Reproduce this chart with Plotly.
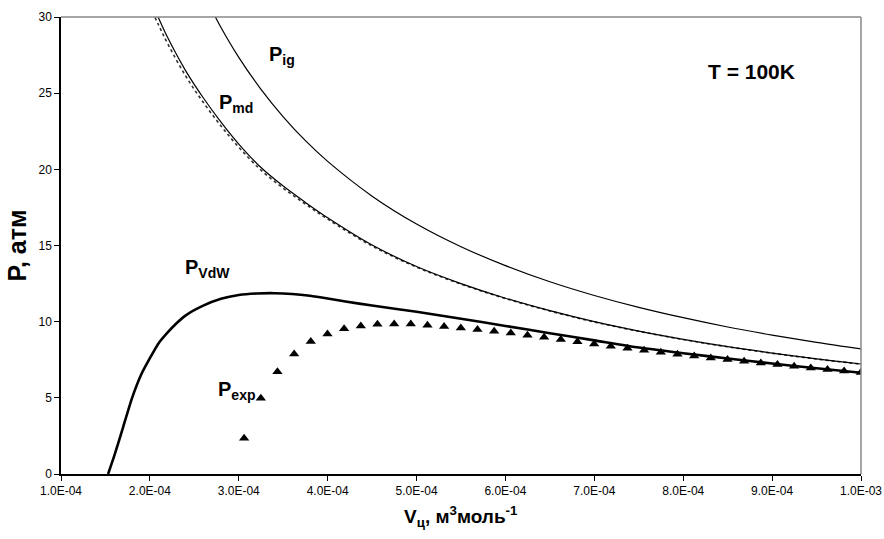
import plotly.graph_objects as go

# ---- data ----
V_ig = [2.6e-4, 2.8e-4, 3.0e-4, 3.25e-4, 3.5e-4, 3.75e-4, 4.0e-4, 4.5e-4, 5.0e-4, 5.5e-4,
        6.0e-4, 6.5e-4, 7.0e-4, 7.5e-4, 8.0e-4, 8.5e-4, 9.0e-4, 9.5e-4, 1.0e-3]
P_ig = [31.56, 29.31, 27.35, 25.25, 23.45, 21.88, 20.52, 18.24, 16.41, 14.92,
        13.68, 12.62, 11.72, 10.94, 10.26, 9.65, 9.12, 8.64, 8.21]

V_md = [2.0e-4, 2.1e-4, 2.2e-4, 2.4e-4, 2.6e-4, 2.8e-4, 3.0e-4, 3.25e-4, 3.5e-4, 3.75e-4,
        4.0e-4, 4.5e-4, 5.0e-4, 5.5e-4, 6.0e-4, 6.5e-4, 7.0e-4, 7.5e-4, 8.0e-4, 8.5e-4,
        9.0e-4, 9.5e-4, 1.0e-3]
P_md = [31.2, 29.9, 28.65, 26.5, 24.7, 23.1, 21.66, 20.12, 18.9, 17.83,
        16.82, 15.03, 13.62, 12.50, 11.54, 10.72, 10.0, 9.38, 8.84, 8.36,
        7.94, 7.56, 7.22]
P_md_alt = [30.7, 29.45, 28.25, 26.15, 24.4, 22.85, 21.45, 19.95, 18.76, 17.72,
            16.73, 14.97, 13.58, 12.47, 11.52, 10.70, 9.98, 9.37, 8.83, 8.35,
            7.93, 7.55, 7.21]

V_vdw = [1.53e-4, 1.6e-4, 1.7e-4, 1.8e-4, 1.9e-4, 2.0e-4, 2.1e-4, 2.2e-4, 2.3e-4, 2.4e-4,
         2.6e-4, 2.8e-4, 3.0e-4, 3.2e-4, 3.4e-4, 3.6e-4, 3.8e-4, 4.0e-4, 4.2e-4, 4.5e-4,
         5.0e-4, 5.5e-4, 6.0e-4, 6.5e-4, 7.0e-4, 7.5e-4, 8.0e-4, 8.5e-4, 9.0e-4, 9.5e-4, 1.0e-3]
P_vdw = [0.0, 1.2, 3.1, 5.0, 6.5, 7.6, 8.6, 9.3, 9.9, 10.4,
         11.05, 11.5, 11.75, 11.85, 11.87, 11.82, 11.7, 11.52, 11.32, 11.06,
         10.65, 10.19, 9.72, 9.24, 8.77, 8.3, 7.93, 7.58, 7.25, 6.94, 6.65]

V_exp = [3.060e-4, 3.248e-4, 3.435e-4, 3.623e-4, 3.810e-4, 3.998e-4, 4.185e-4, 4.373e-4,
         4.560e-4, 4.748e-4, 4.935e-4, 5.123e-4, 5.310e-4, 5.498e-4, 5.685e-4, 5.873e-4,
         6.060e-4, 6.248e-4, 6.435e-4, 6.623e-4, 6.810e-4, 6.998e-4, 7.185e-4, 7.373e-4,
         7.560e-4, 7.748e-4, 7.935e-4, 8.123e-4, 8.310e-4, 8.498e-4, 8.685e-4, 8.873e-4,
         9.060e-4, 9.248e-4, 9.435e-4, 9.623e-4, 9.810e-4, 9.998e-4]
P_exp = [2.34, 4.97, 6.72, 7.88, 8.69, 9.19, 9.54, 9.72, 9.83, 9.85,
         9.84, 9.77, 9.68, 9.58, 9.48, 9.37, 9.25, 9.11, 8.97, 8.83,
         8.68, 8.53, 8.39, 8.25, 8.12, 7.99, 7.86, 7.74, 7.62, 7.51,
         7.40, 7.29, 7.18, 7.07, 6.96, 6.86, 6.76, 6.66]

x_tickvals = [1e-4, 2e-4, 3e-4, 4e-4, 5e-4, 6e-4, 7e-4, 8e-4, 9e-4, 1e-3]
x_ticktext = ["1.0E-04", "2.0E-04", "3.0E-04", "4.0E-04", "5.0E-04", "6.0E-04",
              "7.0E-04", "8.0E-04", "9.0E-04", "1.0E-03"]
y_tickvals = [0, 5, 10, 15, 20, 25, 30]

FONT = "Liberation Sans, Arial, sans-serif"

fig = go.Figure()
fig.add_trace(go.Scatter(x=V_ig, y=P_ig, mode="lines", line=dict(color="black", width=1.2, shape="spline"), name="P_ig"))
fig.add_trace(go.Scatter(x=V_md, y=P_md_alt, mode="lines", line=dict(color="#333", width=1.6, dash="dot", shape="spline"), name="P_md2"))
fig.add_trace(go.Scatter(x=V_md, y=P_md, mode="lines", line=dict(color="black", width=1.2, shape="spline"), name="P_md"))
fig.add_trace(go.Scatter(x=V_vdw, y=P_vdw, mode="lines", line=dict(color="black", width=2.6, shape="spline", smoothing=0.6), name="P_VdW"))
fig.add_trace(go.Scatter(x=V_exp, y=P_exp, mode="markers", marker=dict(symbol="triangle-up", size=9, color="black"), name="P_exp"))

ann_font = dict(family=FONT, size=20, color="black")
labels = [
    (3.49e-4, 27.5, "<b>P<sub>ig</sub></b>"),
    (2.97e-4, 24.3, "<b>P<sub>md</sub></b>"),
    (2.65e-4, 13.5, "<b>P<sub>VdW</sub></b>"),
    (2.97e-4, 5.5, "<b>P<sub>exp</sub></b>"),
]
for x, y, t in labels:
    fig.add_annotation(x=x, y=y, text=t, showarrow=False, font=ann_font, xanchor="center", yanchor="middle")
fig.add_annotation(x=8.77e-4, y=26.4, text="<b>T = 100K</b>", showarrow=False,
                   font=dict(family=FONT, size=21, color="black"), xanchor="center", yanchor="middle")

# axis titles
fig.add_annotation(xref="paper", yref="paper", x=0.5, y=0, yshift=-42, xanchor="center", yanchor="middle",
                   text="<b>V<sub>ц</sub>, м<sup>3</sup>моль<sup>-1</sup></b>", showarrow=False,
                   font=dict(family=FONT, size=19, color="black"))
fig.add_annotation(xref="paper", yref="paper", x=0, y=0.5, xshift=-45, xanchor="center", yanchor="middle",
                   text="<b>P, атм</b>", textangle=-90, showarrow=False,
                   font=dict(family=FONT, size=25, color="black"))

# grey top/right frame
fig.add_shape(type="line", xref="paper", yref="paper", x0=0, x1=1, y0=1, y1=1, line=dict(color="#888", width=1.5))
fig.add_shape(type="line", xref="paper", yref="paper", x0=1, x1=1, y0=0, y1=1, line=dict(color="#888", width=1.5))

fig.update_layout(
    width=884, height=539,
    margin=dict(l=61, r=23, t=17, b=65, autoexpand=False),
    paper_bgcolor="white", plot_bgcolor="white",
    showlegend=False,
    font=dict(family=FONT, size=12, color="black"),
    xaxis=dict(range=[1e-4, 1e-3], tickvals=x_tickvals, ticktext=x_ticktext, automargin=False,
               showgrid=False, zeroline=False, showline=True, linecolor="black", linewidth=1.5,
               ticks="outside", ticklen=5, tickcolor="black", tickwidth=1,
               ticklabeloverflow="allow",
               tickfont=dict(family=FONT, size=12, color="black")),
    yaxis=dict(range=[0, 30], tickvals=y_tickvals, automargin=False,
               showgrid=False, zeroline=False, showline=True, linecolor="black", linewidth=1.5,
               ticks="outside", ticklen=5, tickcolor="black", tickwidth=1,
               tickfont=dict(family=FONT, size=12, color="black")),
)

fig.write_html("out.html", config={"displayModeBar": False},
               post_script="document.body.style.margin='0';document.body.style.padding='0';")
